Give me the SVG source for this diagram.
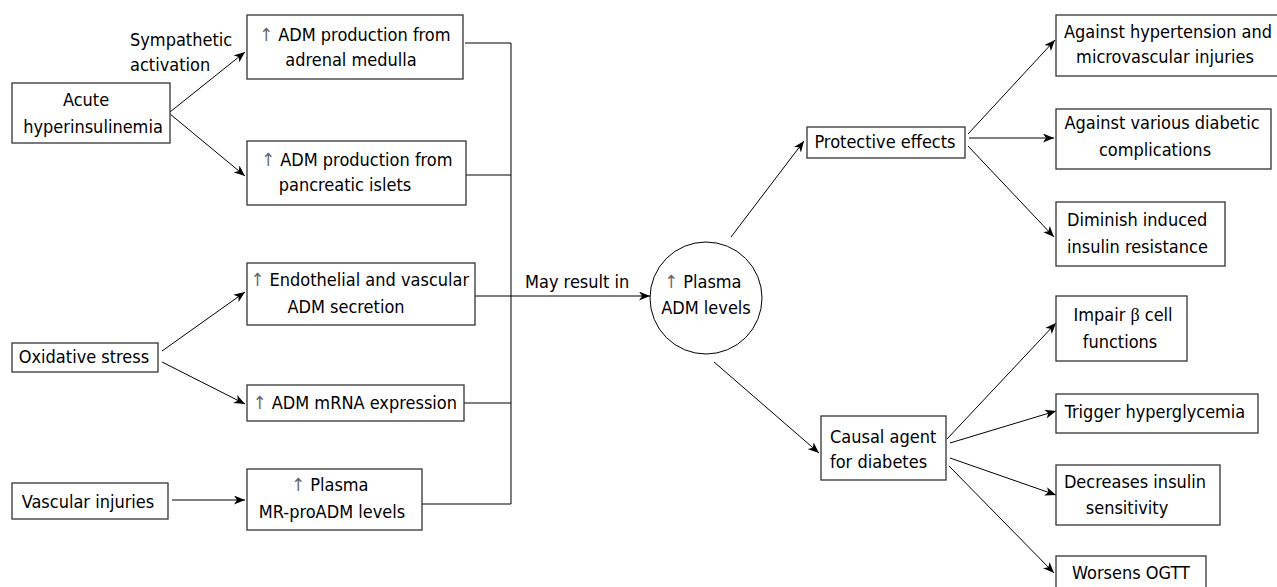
<svg xmlns="http://www.w3.org/2000/svg" width="1277" height="587" viewBox="0 0 1277 587">
<style>
  text { font-family: "DejaVu Sans Condensed", "DejaVu Sans", sans-serif; font-stretch: condensed; font-size: 18px; fill: #000; }
  .c { text-anchor: middle; }
  .box { fill: #fff; stroke: #333; stroke-width: 1.3; }
  .ln { fill: none; stroke: #000; stroke-width: 1; }
  .ar { fill: none; stroke: #000; stroke-width: 1; marker-end: url(#ah); }
  .up { fill: #666; }
  .beta { font-family: "Liberation Serif", serif; }
</style>
<defs>
  <marker id="ah" markerUnits="userSpaceOnUse" markerWidth="12" markerHeight="9" refX="11" refY="4.5" orient="auto">
    <path d="M0,0 L11,4.5 L0,9 L3,4.5 z" fill="#000"/>
  </marker>
</defs>
<rect width="1277" height="587" fill="#fff"/>

<g id="connectors">
  <path class="ar" d="M170,112 L245,52"/>
  <path class="ar" d="M170,114 L245,176"/>
  <path class="ar" d="M162,351 L245,292"/>
  <path class="ar" d="M162,362 L245,404"/>
  <path class="ar" d="M172,500 L245,500"/>
  <path class="ln" d="M465,43 L511,43 L511,504 L422,504"/>
  <path class="ln" d="M466,175 L511,175"/>
  <path class="ln" d="M464,403 L511,403"/>
  <path class="ar" d="M475,296 L650,296"/>
  <path class="ar" d="M731,237 L804,141"/>
  <path class="ar" d="M714,362 L819,453"/>
  <path class="ar" d="M968,134 L1055,40"/>
  <path class="ar" d="M969,138 L1054,138"/>
  <path class="ar" d="M968,146 L1054,237"/>
  <path class="ar" d="M947,439 L1056,323"/>
  <path class="ar" d="M950,443 L1056,411"/>
  <path class="ar" d="M950,458 L1056,495"/>
  <path class="ar" d="M949,466 L1054,573"/>
  <text x="525" y="288">May result in</text>
  <text x="130" y="46">Sympathetic</text>
  <text x="130" y="71">activation</text>
</g>

<g id="acute">
  <rect class="box" x="12" y="83" width="158" height="60"/>
  <text class="c" x="86" y="106">Acute</text>
  <text class="c" x="93" y="133">hyperinsulinemia</text>
</g>
<g id="adrenal">
  <rect class="box" x="247" y="15" width="216" height="64"/>
  <text class="c" x="355" y="41"><tspan class="up">↑</tspan> ADM production from</text>
  <text class="c" x="351" y="66">adrenal medulla</text>
</g>
<g id="pancreatic">
  <rect class="box" x="247" y="141" width="219" height="64"/>
  <text class="c" x="357" y="166"><tspan class="up">↑</tspan> ADM production from</text>
  <text class="c" x="345" y="191">pancreatic islets</text>
</g>
<g id="endothelial">
  <rect class="box" x="247" y="263" width="228" height="62"/>
  <text class="c" x="360" y="286"><tspan class="up">↑</tspan> Endothelial and vascular</text>
  <text class="c" x="346" y="313">ADM secretion</text>
</g>
<g id="oxidative">
  <rect class="box" x="12" y="343" width="146" height="29"/>
  <text class="c" x="84" y="363">Oxidative stress</text>
</g>
<g id="mrna">
  <rect class="box" x="247" y="385" width="217" height="36"/>
  <text class="c" x="355" y="409"><tspan class="up">↑</tspan> ADM mRNA expression</text>
</g>
<g id="vascular">
  <rect class="box" x="12" y="483" width="156" height="36"/>
  <text class="c" x="88" y="508">Vascular injuries</text>
</g>
<g id="mrproadm">
  <rect class="box" x="247" y="469" width="175" height="61"/>
  <text class="c" x="330" y="491"><tspan class="up">↑</tspan> Plasma</text>
  <text class="c" x="332" y="518">MR-proADM levels</text>
</g>
<g id="plasma">
  <circle cx="706" cy="298" r="56" fill="#fff" stroke="#000" stroke-width="1"/>
  <text class="c" x="703" y="288"><tspan class="up">↑</tspan> Plasma</text>
  <text class="c" x="706" y="314">ADM levels</text>
</g>
<g id="protective">
  <rect class="box" x="807" y="127" width="158" height="31"/>
  <text class="c" x="885" y="148">Protective effects</text>
</g>
<g id="hypertension">
  <rect class="box" x="1056" y="15" width="225" height="61"/>
  <text class="c" x="1168" y="38">Against hypertension and</text>
  <text class="c" x="1165" y="63">microvascular injuries</text>
</g>
<g id="various">
  <rect class="box" x="1056" y="109" width="215" height="60"/>
  <text class="c" x="1162" y="129">Against various diabetic</text>
  <text class="c" x="1155" y="156">complications</text>
</g>
<g id="diminish">
  <rect class="box" x="1056" y="202" width="169" height="64"/>
  <text x="1067" y="226">Diminish induced</text>
  <text x="1067" y="253">insulin resistance</text>
</g>
<g id="causal">
  <rect class="box" x="821" y="416" width="125" height="64"/>
  <text x="830" y="443">Causal agent</text>
  <text x="830" y="468">for diabetes</text>
</g>
<g id="impair">
  <rect class="box" x="1056" y="296" width="131" height="65"/>
  <text class="c" x="1123" y="321">Impair <tspan class="beta">β</tspan> cell</text>
  <text class="c" x="1120" y="348">functions</text>
</g>
<g id="trigger">
  <rect class="box" x="1056" y="394" width="202" height="39"/>
  <text class="c" x="1155" y="418">Trigger hyperglycemia</text>
</g>
<g id="decreases">
  <rect class="box" x="1056" y="465" width="164" height="60"/>
  <text class="c" x="1135" y="488">Decreases insulin</text>
  <text class="c" x="1127" y="514">sensitivity</text>
</g>
<g id="worsens">
  <rect class="box" x="1056" y="556" width="150" height="40"/>
  <text class="c" x="1131" y="579">Worsens OGTT</text>
</g>
</svg>
